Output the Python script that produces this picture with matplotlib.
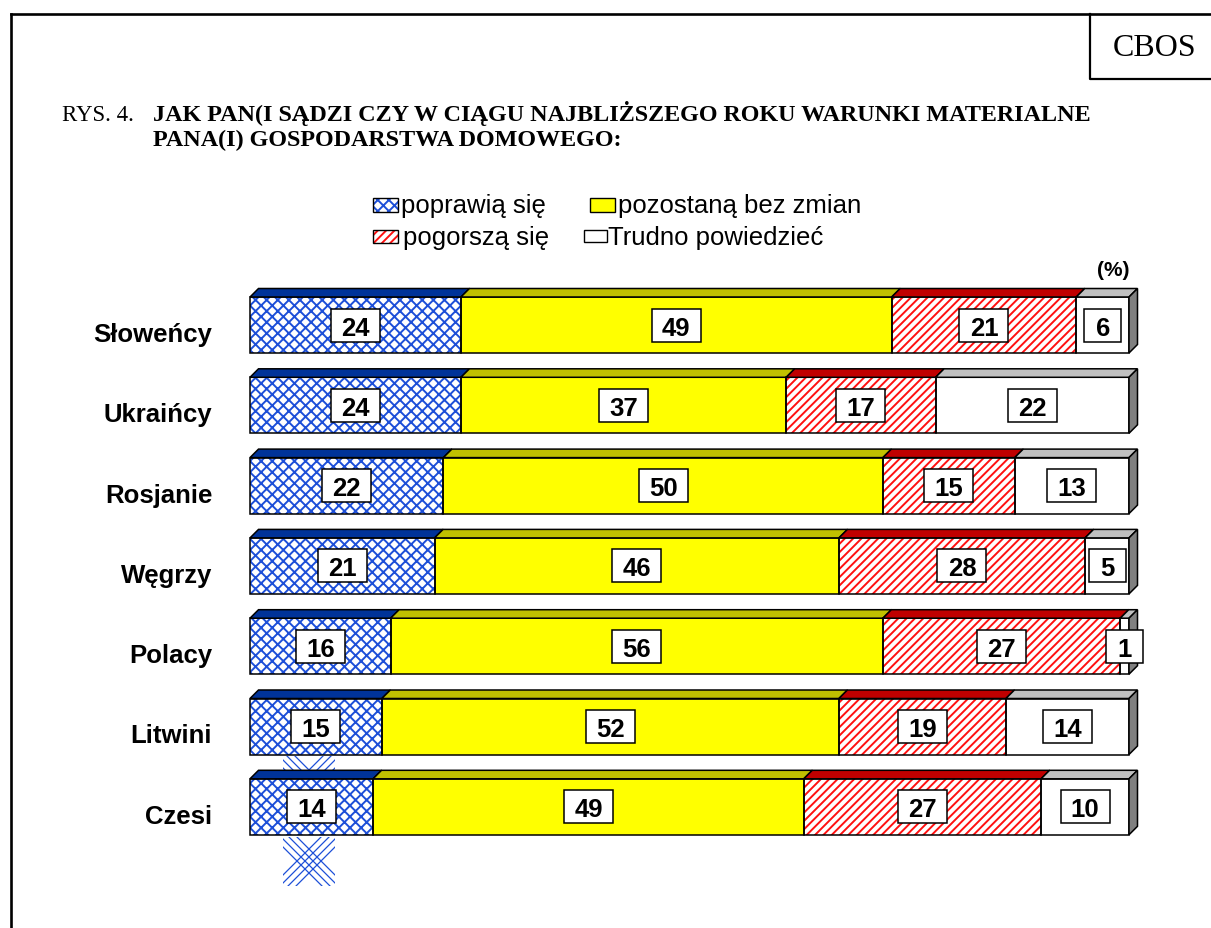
import matplotlib.pyplot as plt
from matplotlib.patches import Rectangle, Polygon

plt.rcParams['font.family'] = ['Liberation Sans', 'DejaVu Sans']
plt.rcParams['hatch.linewidth'] = 1.4

# data
countries = ['Słoweńcy', 'Ukraińcy', 'Rosjanie', 'Węgrzy', 'Polacy', 'Litwini', 'Czesi']
better = [24, 24, 22, 21, 16, 15, 14]
same = [49, 37, 50, 46, 56, 52, 49]
worse = [21, 17, 15, 28, 27, 19, 27]
hard = [6, 22, 13, 5, 1, 14, 10]
series_names = ['poprawią się', 'pozostaną bez zmian', 'pogorszą się', 'Trudno powiedzieć']

# styles for the four series
faces = ['white', '#ffff00', 'white', 'white']
hatches = ['xxx', None, '////', None]
hatch_cols = ['#1d4fd8', 'black', '#ff1010', 'black']
tops = ['#003399', '#c0c000', '#c00000', '#c0c0c0']

W, H = 1211, 929
fig = plt.figure(figsize=(W / 100, H / 100), dpi=100)

# background axes in pixel coordinates: frame, titles, legend
bg = fig.add_axes([0, 0, 1, 1])
bg.set_xlim(0, W)
bg.set_ylim(H, 0)
bg.axis('off')

bg.plot([11, 11], [15, H], color='black', lw=1.9, solid_capstyle='projecting')
bg.plot([11, W], [15, 15], color='black', lw=1.9, solid_capstyle='projecting')
bg.plot([1090, 1090, W], [15, 80, 80], color='black', lw=1.6)
bg.text(1155, 48, 'CBOS', family='Liberation Serif', fontsize=23, ha='center', va='center')

bg.text(62, 121, 'RYS. 4.', family='Liberation Serif', fontsize=16.5, va='baseline')
bg.text(153, 121, 'JAK PAN(I SĄDZI CZY W CIĄGU NAJBLIŻSZEGO ROKU WARUNKI MATERIALNE',
        family='Liberation Serif', fontsize=17.4, fontweight='bold', va='baseline')
bg.text(153, 146, 'PANA(I) GOSPODARSTWA DOMOWEGO:',
        family='Liberation Serif', fontsize=17.4, fontweight='bold', va='baseline')

# legend
leg_pos = [(373, 199, 25, 14, 401, 213), (590, 199, 25, 14, 618, 213),
           (373, 231, 25, 13, 403, 245), (584, 231, 23, 12, 608, 245)]
for i, (lx, ly, lw_, lh, tx, ty) in enumerate(leg_pos):
    bg.add_patch(Rectangle((lx, ly), lw_, lh, facecolor=faces[i], edgecolor=hatch_cols[i],
                           hatch=hatches[i], lw=0))
    bg.add_patch(Rectangle((lx, ly), lw_, lh, fill=False, edgecolor='black', lw=1.0))
    bg.text(tx, ty, series_names[i], fontsize=18.5, va='baseline')

bg.text(1113, 270, '(%)', fontsize=15, fontweight='bold', ha='center', va='center')

# stray hatch strokes around the Czesi bar (as in the original print)
for (ya, yb, cy) in [(757, 774, 783), (838, 887, 862)]:
    clip = Rectangle((283, ya), 52, yb - ya, transform=bg.transData)
    for o in (-12, -4, 4, 12):
        for sgn in (1, -1):
            ln, = bg.plot([309 + o - 80, 309 + o + 80], [cy - sgn * 80, cy + sgn * 80],
                          color='#1d4fd8', lw=0.9)
            ln.set_clip_path(clip)

# main bar axes: x in percent, y in rows
x0_px, x1_px = 250, 1129
pitch = 80.3
y_top = 326 - pitch / 2
y_bot = 326 + pitch * 6.5
ax = fig.add_axes([x0_px / W, 1 - y_bot / H, (x1_px - x0_px) / W, (y_bot - y_top) / H])
ax.set_xlim(0, 100)
ax.set_ylim(6.5, -0.5)
ax.axis('off')
ax.patch.set_alpha(0)

px_x = 100 / (x1_px - x0_px)
px_y = 1 / pitch
dx, dy = 8.5 * px_x, 8.5 * px_y
h = 56 * px_y
bh = 33 * px_y

series = [better, same, worse, hard]
for r, name in enumerate(countries):
    left = 0
    top = r - h / 2
    for k, vals in enumerate(series):
        v = vals[r]
        ax.add_patch(Rectangle((left, top), v, h, facecolor=faces[k], edgecolor=hatch_cols[k],
                               hatch=hatches[k], lw=0, clip_on=False, zorder=1))
        ax.add_patch(Rectangle((left, top), v, h, fill=False, edgecolor='black', lw=1.1,
                               clip_on=False, zorder=2))
        ax.add_patch(Polygon([(left, top), (left + v, top), (left + v + dx, top - dy),
                              (left + dx, top - dy)], closed=True, facecolor=tops[k],
                             edgecolor='black', lw=1.1, clip_on=False, zorder=2))
        # value label box
        cx = left + v / 2
        bw = (49 if v >= 10 else 37) * px_x
        ax.add_patch(Rectangle((cx - bw / 2, r - bh / 2), bw, bh, facecolor='white',
                               edgecolor='black', lw=1.1, clip_on=False, zorder=4))
        ax.text(cx, r + 9.5 * px_y, str(v), fontsize=18.5, fontweight='bold', ha='center',
                va='baseline', zorder=5, clip_on=False)
        left += v
    # side face
    ax.add_patch(Polygon([(left, top), (left + dx, top - dy), (left + dx, top + h - dy),
                          (left, top + h)], closed=True, facecolor='#808080',
                         edgecolor='black', lw=1.1, clip_on=False, zorder=2))
    ax.text(-4.3, r + 16 * px_y, name, fontsize=18.5, fontweight='bold', ha='right',
            va='baseline', clip_on=False)

fig.savefig('out.png', dpi=100)
